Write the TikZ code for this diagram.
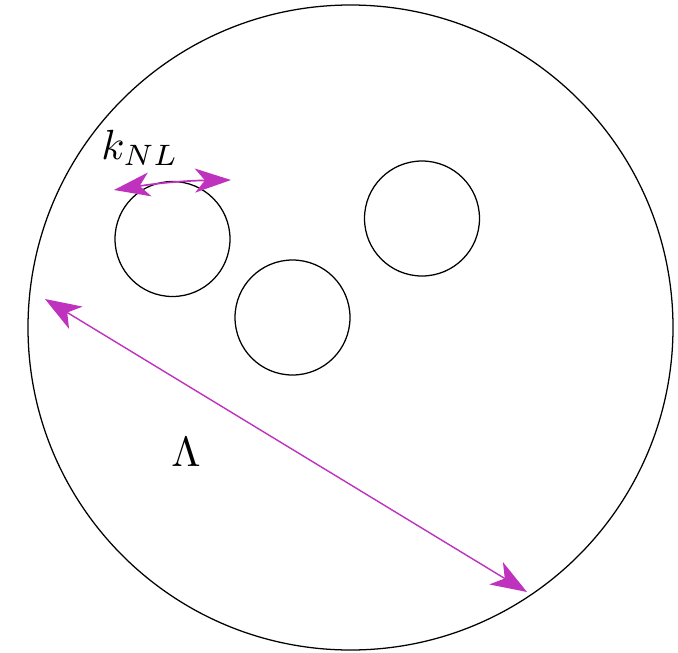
\documentclass[tikz,border=0pt]{standalone}
\usepackage{amsmath,amssymb}
\usepackage{xcolor}
\usepackage{tikz}
\usetikzlibrary{calc,arrows.meta,positioning}
\definecolor{scaleMagenta}{RGB}{190,50,190}

\begin{document}
\begin{tikzpicture}[x=0.025cm,y=-0.025cm]
\useasboundingbox (0,0) rectangle (678,652);
% outer region and the three blobs
\draw[line width=0.9pt] (350.5,327.5) circle (322.5);
\draw[line width=0.9pt] (172.5,239) circle (57.5);
\draw[line width=0.9pt] (292.5,317.5) circle (57.5);
\draw[line width=0.9pt] (422,218.5) circle (57.5);
% end points of the two scales
\coordinate (kL) at (114,190);
\coordinate (kR) at (231,180);
\coordinate (lamA) at (45,299);
\coordinate (lamB) at (527,592);
\draw[scaleMagenta, line width=1.2pt, {Stealth[length=9mm,width=6mm,inset=2.5mm]}-{Stealth[length=9mm,width=6mm,inset=2.5mm]}]
(kL) to[bend left=4] (kR);
\draw[scaleMagenta, line width=1pt, {Stealth[length=9mm,width=6.5mm,inset=2.5mm]}-{Stealth[length=9mm,width=6.5mm,inset=2.5mm]}]
(lamA) -- (lamB);
\node[scale=3] (knl) at (140,148) {$k_{NL}$};
\node[scale=3] (lam) at (186,452) {$\Lambda$};
\end{tikzpicture}
\end{document}
